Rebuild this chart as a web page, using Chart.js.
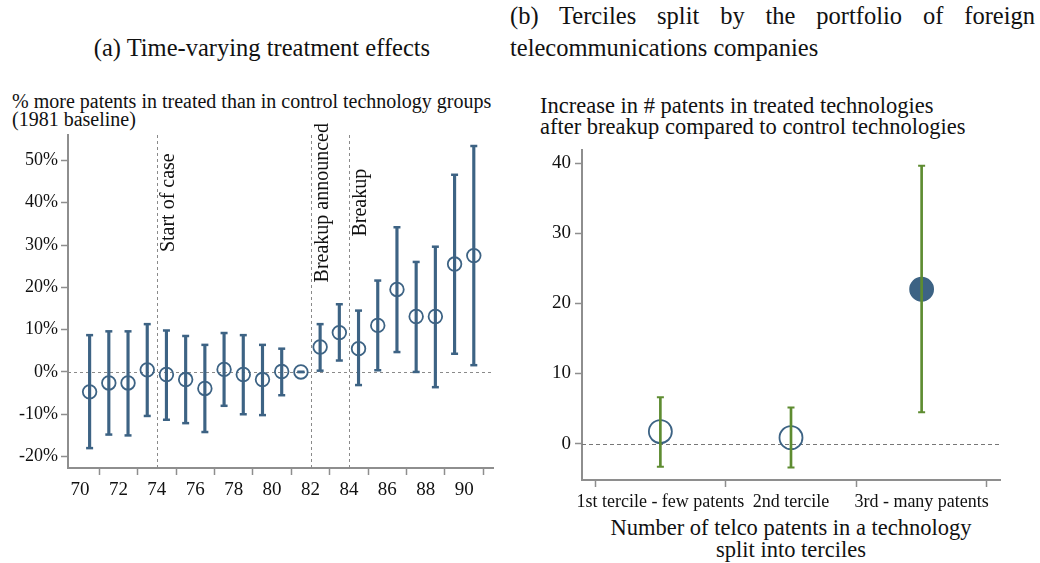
<!DOCTYPE html>
<html>
<head>
<meta charset="utf-8">
<script src="https://cdn.jsdelivr.net/npm/chart.js@4.4.1/dist/chart.umd.min.js"></script>
<style>
  body { margin: 0; background: #fff; width: 1040px; height: 563px; position: relative; overflow: hidden;
         font-family: "Liberation Serif", "DejaVu Serif", serif; color: #111; }
  .t { position: absolute; white-space: nowrap; }
  canvas { position: absolute; }
</style>
</head>
<body>
<div class="t" style="left:0;width:524px;text-align:center;top:32px;font-size:24.5px;line-height:32px">(a) Time-varying treatment effects</div>
<div style="position:absolute;left:510px;width:525px;top:0;font-size:24.5px;line-height:32px;text-align:justify">(b) Terciles split by the portfolio of foreign telecommunications companies</div>

<div class="t" style="left:12px;top:92px;font-size:20px;line-height:18px">% more patents in treated than in control technology groups<br>(1981 baseline)</div>
<div class="t" style="left:540px;top:95px;font-size:22.5px;line-height:21px">Increase in # patents in treated technologies<br>after breakup compared to control technologies</div>
<div class="t" style="left:541px;width:500px;text-align:center;top:517px;font-size:22.5px;line-height:22px">Number of telco patents in a technology<br>split into terciles</div>

<canvas id="left" width="520" height="400" style="left:0;top:120px"></canvas>
<canvas id="right" width="540" height="390" style="left:500px;top:135px"></canvas>

<script>
// panel (a): yearly estimates, points sit half way between the even-year ticks
const years = [70.5, 71.5, 72.5, 73.5, 74.5, 75.5, 76.5, 77.5, 78.5, 79.5, 80.5,
               81.5, 82.5, 83.5, 84.5, 85.5, 86.5, 87.5, 88.5, 89.5, 90.5];
const effect = [-4.7, -2.6, -2.6, 0.5, -0.6, -1.8, -3.9, 0.6, -0.6, -1.8, 0.1,
                0, 5.9, 9.3, 5.5, 11.0, 19.5, 13.1, 13.1, 25.5, 27.5];
const ciLow = [-18.0, -14.8, -15.0, -10.4, -11.3, -12.1, -14.2, -8.0, -10.0, -10.2, -5.5,
               0, 0.3, 2.7, -3.1, 0.4, 4.7, 0.0, -3.6, 4.3, 1.6];
const ciHigh = [8.7, 9.6, 9.6, 11.3, 9.8, 8.5, 6.4, 9.2, 8.7, 6.4, 5.5,
                0, 11.3, 16.0, 14.5, 21.6, 34.2, 26.0, 29.6, 46.6, 53.4];
const yearTicks = [70, 72, 74, 76, 78, 80, 82, 84, 86, 88, 90];
const pctTicks = [-20, -10, 0, 10, 20, 30, 40, 50];
const events = [74, 82, 84];
const eventLabels = ['Start of case', 'Breakup announced', 'Breakup'];

// panel (b): terciles
const terciles = ['1st tercile - few patents', '2nd tercile', '3rd - many patents'];
const tercPos = [1, 2, 3];
const tercEffect = [1.7, 0.84, 22.0];
const tercLow = [-3.3, -3.4, 4.45];
const tercHigh = [6.6, 5.15, 39.6];
const tercTicks = [0, 10, 20, 30, 40];

const blue = '#3d6384';
const green = '#5e8c31';
const axisGray = '#8e8e8e';
const serif = '"Liberation Serif", "DejaVu Serif", serif';

// dashed reference lines + rotated event labels
const refLines = {
  id: 'refLines',
  beforeDatasetsDraw(chart, args, opts) {
    const { ctx, chartArea: a, scales: { x, y } } = chart;
    ctx.save();
    ctx.strokeStyle = opts.color;
    ctx.lineWidth = 1;
    ctx.setLineDash(opts.dash);
    (opts.h || []).forEach(v => {
      const py = Math.round(y.getPixelForValue(v)) + 0.5;
      ctx.beginPath(); ctx.moveTo(a.left, py); ctx.lineTo(a.right, py); ctx.stroke();
    });
    (opts.v || []).forEach(v => {
      const px = Math.round(x.getPixelForValue(v)) + 0.5;
      ctx.beginPath(); ctx.moveTo(px, a.top); ctx.lineTo(px, a.bottom); ctx.stroke();
    });
    ctx.setLineDash([]);
    ctx.fillStyle = '#111';
    ctx.font = opts.font;
    ctx.textAlign = 'center';
    ctx.textBaseline = 'top';
    (opts.labels || []).forEach((t, i) => {
      const px = x.getPixelForValue(opts.v[i]) + 2;
      const py = y.getPixelForValue(opts.labelY);
      ctx.save();
      ctx.translate(px, py);
      ctx.rotate(-Math.PI / 2);
      ctx.fillText(t, 0, 0);
      ctx.restore();
    });
    ctx.restore();
  }
};

function axisGrid() {
  return { drawOnChartArea: false, drawTicks: true, tickLength: 7, tickColor: axisGray, tickWidth: 1.5 };
}

// ---- panel (a)
new Chart(document.getElementById('left'), {
  type: 'scatter',
  data: {
    datasets: [{
      type: 'bar',
      data: years.map((x, i) => ({ x: x, y: [ciLow[i], ciHigh[i]] })),
      backgroundColor: blue,
      barThickness: 2.5,
      grouped: false
    }, {
      data: years.map((x, i) => ({ x: x, y: ciHigh[i] })).concat(years.map((x, i) => ({ x: x, y: ciLow[i] }))),
      pointStyle: 'line',
      radius: 3.5,
      borderWidth: 2.5,
      borderColor: blue
    }, {
      data: years.map((x, i) => ({ x: x, y: effect[i] })),
      pointStyle: 'circle',
      radius: 6.8,
      borderWidth: 1.8,
      borderColor: blue,
      backgroundColor: 'rgba(0,0,0,0)'
    }]
  },
  options: {
    responsive: false,
    animation: false,
    events: [],
    layout: { padding: { top: 15, right: 27, left: 0, bottom: 0 } },
    plugins: {
      legend: { display: false },
      tooltip: { enabled: false },
      refLines: { h: [0], v: events, labels: eventLabels, labelY: 40, color: '#8a8a8a', dash: [3, 3], font: '20px ' + serif }
    },
    scales: {
      x: {
        type: 'linear', min: 69.375, max: 91.5, offset: false,
        afterBuildTicks: s => { s.ticks = yearTicks.map(v => ({ value: v })); },
        afterFit: s => { s.height = 52; },
        grid: axisGrid(),
        border: { display: true, color: axisGray, width: 2 },
        ticks: { color: '#111', font: { family: serif, size: 19 }, padding: 4, maxRotation: 0 }
      },
      y: {
        min: -22.7, max: 56,
        afterBuildTicks: s => { s.ticks = pctTicks.map(v => ({ value: v })); },
        afterFit: s => { s.width = 68; },
        grid: axisGrid(),
        border: { display: true, color: axisGray, width: 2 },
        ticks: { color: '#111', font: { family: serif, size: 18 }, padding: 3, callback: v => v + '%' }
      }
    }
  },
  plugins: [refLines]
});

// ---- panel (b)
new Chart(document.getElementById('right'), {
  type: 'scatter',
  data: {
    datasets: [{
      type: 'bar',
      data: tercPos.map((x, i) => ({ x: x, y: [tercLow[i], tercHigh[i]] })),
      backgroundColor: green,
      barThickness: 2,
      grouped: false
    }, {
      data: tercPos.map((x, i) => ({ x: x, y: tercHigh[i] })).concat(tercPos.map((x, i) => ({ x: x, y: tercLow[i] }))),
      pointStyle: 'line',
      radius: 3.5,
      borderWidth: 2,
      borderColor: green
    }, {
      data: tercPos.map((x, i) => ({ x: x, y: tercEffect[i] })),
      pointStyle: 'circle',
      radius: 11.5,
      borderWidth: 1.8,
      borderColor: blue,
      backgroundColor: ['rgba(0,0,0,0)', 'rgba(0,0,0,0)', blue]
    }]
  },
  options: {
    responsive: false,
    animation: false,
    events: [],
    layout: { padding: { top: 10, right: 40, left: 0, bottom: 0 } },
    plugins: {
      legend: { display: false },
      tooltip: { enabled: false },
      refLines: { h: [0], color: '#777', dash: [4, 3] }
    },
    scales: {
      x: {
        type: 'linear', min: 0.4, max: 3.6, offset: false,
        afterBuildTicks: s => { s.ticks = tercPos.map(v => ({ value: v })); },
        afterFit: s => { s.height = 45; },
        grid: axisGrid(),
        border: { display: true, color: axisGray, width: 2 },
        ticks: { color: '#111', font: { family: serif, size: 18 }, padding: 4, maxRotation: 0,
                 callback: v => terciles[tercPos.indexOf(v)] }
      },
      y: {
        min: -5.2, max: 41.8,
        afterBuildTicks: s => { s.ticks = tercTicks.map(v => ({ value: v })); },
        afterFit: s => { s.width = 82; },
        grid: axisGrid(),
        border: { display: true, color: axisGray, width: 2 },
        ticks: { color: '#111', font: { family: serif, size: 19 }, padding: 4 }
      }
    }
  },
  plugins: [refLines]
});
</script>
</body>
</html>
